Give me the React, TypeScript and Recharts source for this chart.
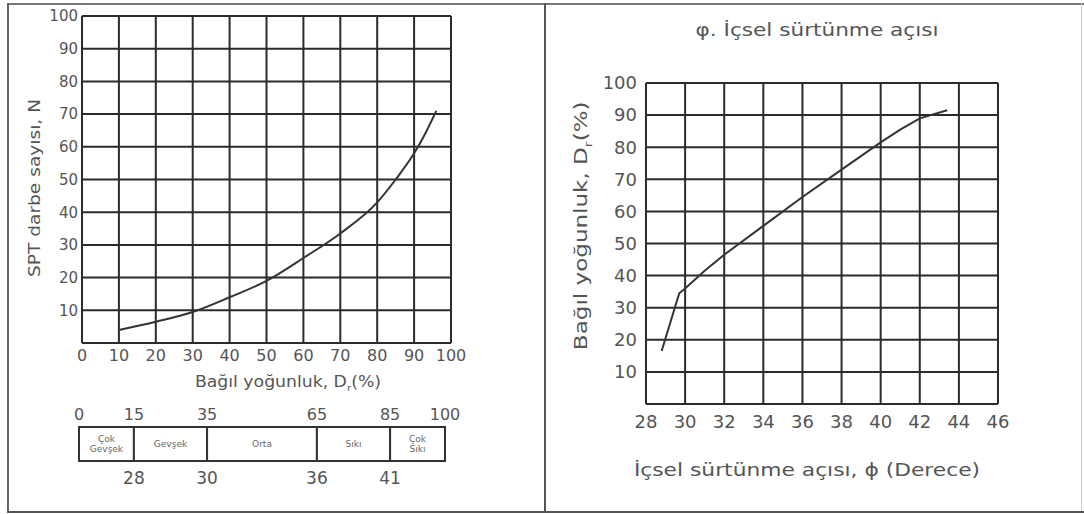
import React from 'react';
import { LineChart, Line, XAxis, YAxis, CartesianGrid, BarChart, Bar, LabelList } from 'recharts';

// Left chart: SPT blow count vs relative density
const densityPct = [10, 20, 30, 40, 50, 60, 70, 80, 85, 90, 93, 96];
const sptN = [4, 6.5, 9.5, 14, 19, 26, 33.5, 43, 50, 58, 64, 71];
const leftXTicks = [0, 10, 20, 30, 40, 50, 60, 70, 80, 90, 100];
const leftYTicks = [10, 20, 30, 40, 50, 60, 70, 80, 90, 100];

// Table under the left chart
const classBounds = [0, 15, 35, 65, 85, 100];
const classNames = ['Çok\nGevşek', 'Gevşek', 'Orta', 'Sıkı', 'Çok\nSıkı'];
const classAngles = [28, 30, 36, 41];

// Right chart: relative density vs internal friction angle
const phiDeg = [28.8, 29.7, 30, 31, 32, 34, 36, 38, 40, 41, 42, 43.4];
const relDensity = [16.5, 34.5, 36, 41.5, 46.5, 55.5, 64.5, 73, 81.5, 85.5, 89, 91.5];
const rightXTicks = [28, 30, 32, 34, 36, 38, 40, 42, 44, 46];
const rightYTicks = [10, 20, 30, 40, 50, 60, 70, 80, 90, 100];

const FONT = '"DejaVu Sans", "Liberation Sans", sans-serif';
const TXT = '#555';
const GRID = '#2b2b2b';

const leftData = densityPct.map((x, i) => ({ x, n: sptN[i] }));
const rightData = phiDeg.map((x, i) => ({ x, d: relDensity[i] }));
const tableRow: Record<string, any> = { row: 'r' };
classBounds.slice(1).forEach((b, i) => {
  tableRow['s' + i] = b - classBounds[i];
});
const tableData = [tableRow];

const makeCellLabel = (name: string, angle?: number) => (props: any) => {
  const { x, y, width, height } = props;
  const lines = name.split('\n');
  const cx = x + width / 2;
  const cy = y + height / 2;
  const lh = 10;
  const start = cy - ((lines.length - 1) * lh) / 2;
  return (
    <g>
      <text x={cx} y={start} textAnchor="middle" dominantBaseline="central" fontSize={9} fill="#666" fontFamily={FONT}>
        {lines.map((l, i) => (
          <tspan key={i} x={cx} y={start + i * lh}>
            {l}
          </tspan>
        ))}
      </text>
      {angle !== undefined && (
        <text x={x + width} y={y + height + 23} textAnchor="middle" fontSize={17} fill={TXT} fontFamily={FONT}>
          {angle}
        </text>
      )}
    </g>
  );
};

const abs = (s: React.CSSProperties): React.CSSProperties => ({ position: 'absolute', ...s });

export default function App() {
  return (
    <div style={{ position: 'absolute', left: 0, top: 0, width: 1084, height: 514, background: '#fff', overflow: 'hidden', fontFamily: FONT }}>
      {/* frame lines */}
      <div style={abs({ left: 7, top: 3, width: 1077, height: 2, background: '#777' })} />
      <div style={abs({ left: 7, top: 3, width: 2, height: 510, background: '#666' })} />
      <div style={abs({ left: 544, top: 3, width: 2, height: 510, background: '#555' })} />
      <div style={abs({ left: 1081, top: 3, width: 1, height: 510, background: '#ccc' })} />
      <div style={abs({ left: 7, top: 511, width: 1077, height: 2, background: '#555' })} />

      {/* Left chart */}
      <div style={abs({ left: 0, top: 0 })}>
        <LineChart width={545} height={400} data={leftData} margin={{ top: 16, right: 94, left: 22, bottom: 27 }}>
          <CartesianGrid stroke={GRID} strokeWidth={2} />
          <XAxis
            type="number"
            dataKey="x"
            domain={[0, 100]}
            ticks={leftXTicks}
            height={30}
            tickSize={0}
            tickMargin={7}
            axisLine={{ stroke: GRID, strokeWidth: 2 }}
            tick={{ fill: TXT, fontSize: 16, fontFamily: FONT }}
            interval={0}
          />
          <YAxis
            type="number"
            domain={[0, 100]}
            ticks={leftYTicks}
            width={60}
            tickSize={0}
            tickMargin={4}
            axisLine={false}
            tick={{ fill: TXT, fontSize: 15, fontFamily: FONT }}
            interval={0}
          />
          <Line type="monotone" dataKey="n" stroke="#333" strokeWidth={2} dot={false} isAnimationActive={false} />
        </LineChart>
      </div>
      <div style={abs({ left: 35, top: 188, width: 240, marginLeft: -120, marginTop: -9, textAlign: 'center', transform: 'rotate(-90deg) scaleX(1.24)', fontSize: 15, color: TXT, lineHeight: '18px', whiteSpace: 'nowrap' })}>
        SPT darbe sayısı, N
      </div>
      <div style={abs({ left: 138, top: 372, width: 300, textAlign: 'center', transform: 'scaleX(1.15)', fontSize: 15, color: TXT, lineHeight: '20px', whiteSpace: 'nowrap' })}>
        Bağıl yoğunluk, D<span style={{ fontSize: 9, verticalAlign: 'sub' }}>r</span>(%)
      </div>

      {/* Table */}
      <div style={abs({ left: 0, top: 390 })}>
        <BarChart width={545} height={100} data={tableData} layout="vertical" barCategoryGap={0} margin={{ top: 12, right: 100, left: 79, bottom: 29 }}>
          <XAxis
            orientation="top"
            type="number"
            domain={[0, 100]}
            ticks={classBounds}
            height={25}
            tickSize={0}
            tickMargin={7}
            axisLine={false}
            tick={{ fill: TXT, fontSize: 16, fontFamily: FONT }}
            interval={0}
          />
          <YAxis type="category" dataKey="row" hide width={0} />
          {classNames.map((nm, i) => (
            <Bar key={i} dataKey={'s' + i} stackId="a" fill="#fff" stroke="#333" strokeWidth={2} isAnimationActive={false}>
              <LabelList content={makeCellLabel(nm, classAngles[i])} />
            </Bar>
          ))}
        </BarChart>
      </div>

      {/* Right chart */}
      <div style={abs({ left: 545, top: 0 })}>
        <LineChart width={539} height={500} data={rightData} margin={{ top: 83, right: 86, left: 41, bottom: 16 }}>
          <CartesianGrid stroke={GRID} strokeWidth={2} />
          <XAxis
            type="number"
            dataKey="x"
            domain={[28, 46]}
            ticks={rightXTicks}
            height={80}
            tickSize={0}
            tickMargin={11}
            axisLine={{ stroke: GRID, strokeWidth: 2 }}
            tick={{ fill: TXT, fontSize: 18, fontFamily: FONT }}
            interval={0}
          />
          <YAxis
            type="number"
            domain={[0, 100]}
            ticks={rightYTicks}
            width={60}
            tickSize={0}
            tickMargin={9}
            axisLine={false}
            tick={{ fill: TXT, fontSize: 18, fontFamily: FONT }}
            interval={0}
          />
          <Line type="linear" dataKey="d" stroke="#333" strokeWidth={2} dot={false} isAnimationActive={false} />
        </LineChart>
      </div>
      <div style={abs({ left: 642, top: 19, width: 350, textAlign: 'center', transform: 'scaleX(1.2)', fontSize: 18, color: TXT, lineHeight: '22px', whiteSpace: 'nowrap' })}>
        φ. İçsel sürtünme açısı
      </div>
      <div style={abs({ left: 585, top: 222, width: 320, marginLeft: -160, marginTop: -11, textAlign: 'center', transform: 'rotate(-90deg) scaleX(1.28)', fontSize: 18, color: TXT, lineHeight: '22px', whiteSpace: 'nowrap' })}>
        Bağıl yoğunluk, D<span style={{ fontSize: 11, verticalAlign: 'sub' }}>r</span>(%)
      </div>
      <div style={abs({ left: 582, top: 458, width: 450, textAlign: 'center', transform: 'scaleX(1.21)', fontSize: 18, color: TXT, lineHeight: '24px', whiteSpace: 'nowrap' })}>
        İçsel sürtünme açısı, ϕ (Derece)
      </div>
    </div>
  );
}
